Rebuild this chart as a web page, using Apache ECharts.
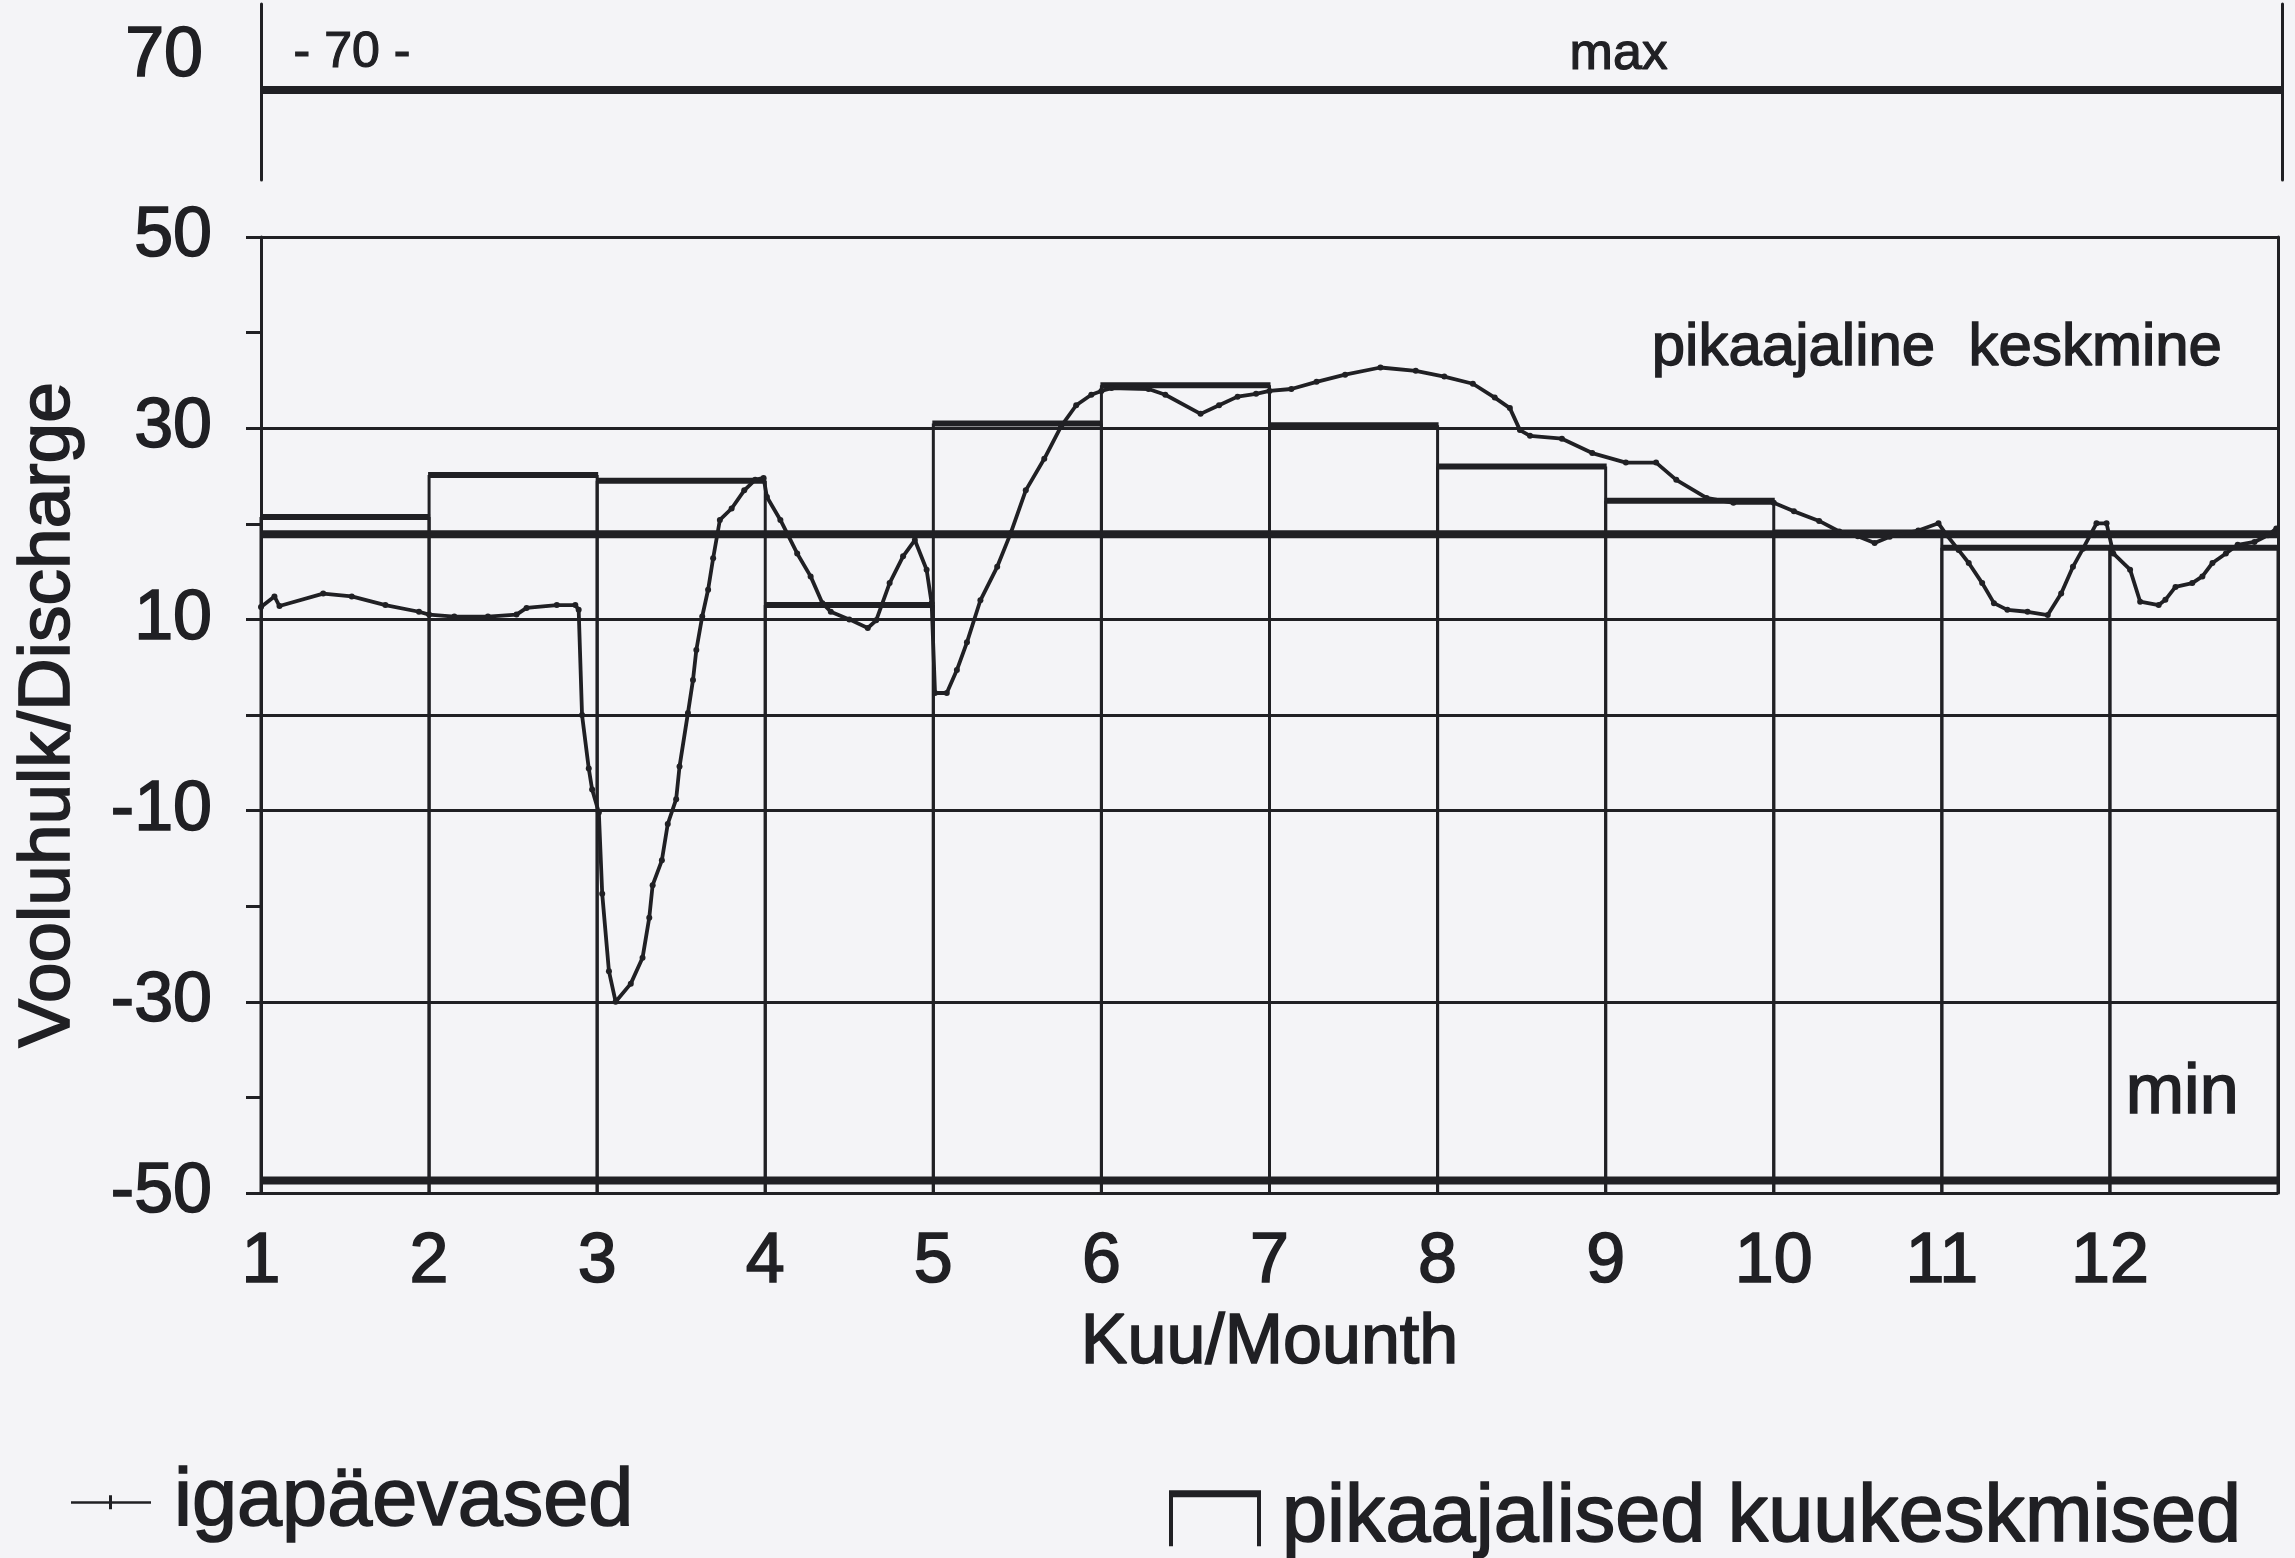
<!DOCTYPE html>
<html>
<head>
<meta charset="utf-8">
<title>Vooluhulk</title>
<script src="https://cdn.jsdelivr.net/npm/echarts@6.0.0/dist/echarts.min.js"></script>
<style>
  html, body { margin: 0; padding: 0; background: #f4f4f7; }
  #chart { width: 2295px; height: 1558px; }
</style>
</head>
<body>
<div id="chart"></div>
<script>
// kuud (x telg)
const months = [1, 2, 3, 4, 5, 6, 7, 8, 9, 10, 11, 12];
// pikaajalised kuukeskmised
const monthMeans = [20.7, 25.1, 24.5, 11.5, 30.5, 34.5, 30.3, 26.0, 22.4, 19.1, 17.5, 17.5];
// igapäevased (x kuudes, y vooluhulk), loetud pildilt
const dayX = [1.00, 1.08, 1.11, 1.37, 1.54, 1.74, 1.94, 2.00, 2.15, 2.35, 2.52, 2.58, 2.76, 2.87, 2.89,
  2.91, 2.95, 2.97, 3.01, 3.03, 3.07, 3.11, 3.20, 3.27, 3.31, 3.33, 3.385, 3.42, 3.47, 3.49, 3.54, 3.57,
  3.59, 3.625, 3.66, 3.69, 3.73, 3.80, 3.875, 3.94, 3.99, 4.01, 4.09, 4.19, 4.27, 4.34, 4.39, 4.50, 4.61,
  4.66, 4.74, 4.82, 4.89, 4.96, 4.99, 5.01, 5.08, 5.14, 5.20, 5.28, 5.38, 5.46, 5.55, 5.66, 5.76, 5.85,
  5.94, 6.00, 6.06, 6.28, 6.38, 6.59, 6.70, 6.81, 6.92, 7.00, 7.13, 7.28, 7.45, 7.66, 7.87, 8.04, 8.21,
  8.34, 8.43, 8.49, 8.55, 8.74, 8.92, 9.12, 9.30, 9.42, 9.60, 9.76, 10.00, 10.12, 10.27, 10.39, 10.50,
  10.60, 10.69, 10.86, 10.98, 11.03, 11.10, 11.16, 11.24, 11.31, 11.39, 11.51, 11.63, 11.71, 11.78,
  11.84, 11.92, 11.98, 12.02, 12.12, 12.18, 12.29, 12.33, 12.39, 12.49, 12.55, 12.61, 12.69, 12.76,
  12.86, 12.94, 12.99];
const dayY = [11.3, 12.4, 11.4, 12.7, 12.4, 11.5, 10.8, 10.5, 10.3, 10.3, 10.5, 11.2, 11.5, 11.5, 11.0,
  0.0, -5.6, -7.8, -10.2, -18.7, -26.8, -30.0, -28.1, -25.4, -21.2, -17.8, -15.2, -11.4, -8.8, -5.4, 0.2, 3.65,
  6.8, 10.3, 13.1, 16.4, 20.4, 21.6, 23.5, 24.6, 24.8, 22.8, 20.4, 16.9, 14.5, 11.7, 10.8, 10.0, 9.1,
  9.9, 13.8, 16.6, 18.3, 15.2, 11.7, 2.3, 2.3, 4.7, 7.6, 12.0, 15.5, 19.0, 23.5, 26.8, 30.2, 32.4,
  33.5, 33.9, 34.2, 34.1, 33.5, 31.5, 32.4, 33.3, 33.6, 33.9, 34.1, 34.85, 35.6, 36.35, 36.0, 35.4, 34.65,
  33.2, 32.1, 29.8, 29.2, 28.9, 27.4, 26.4, 26.4, 24.6, 22.7, 22.2, 22.2, 21.3, 20.3, 19.2, 18.7,
  18.0, 18.65, 19.3, 20.05, 18.8, 17.25, 15.9, 13.8, 11.7, 11.0, 10.8, 10.45, 12.7, 15.5,
  17.4, 20.05, 20.05, 16.9, 15.2, 11.85, 11.5, 12.05, 13.4, 13.8, 14.5, 15.9, 16.9, 17.8,
  18.1, 18.8, 19.5];
// pikaajaline keskmine, max, min
const longMean = 18.9;
const maxValue = 65.4;
const minValue = -48.7;
// horisontaalsed abijooned
const gridValues = [50, 30, 10, 0, -10, -30, -50];
const yLabelValues = [-50, -30, -10, 10, 30, 50];

const ink = '#202024';
const font = 'Liberation Sans, Arial, Helvetica, sans-serif';
const yMin = -50, yMax = 50;
// skaneeritud tekst on veidi paksem
const bold = { textBorderColor: ink, textBorderWidth: 1.6 };

const chart = echarts.init(document.getElementById('chart'));

const option = {
  backgroundColor: '#f4f4f7',
  animation: false,
  textStyle: { fontFamily: font, color: ink },
  grid: [
    { left: 261, right: 17, top: 237, height: 956 },
    { left: 261, right: 13, top: 4, height: 176 }
  ],
  xAxis: [
    {
      gridIndex: 0, type: 'value', min: 1, max: 13, interval: 1,
      name: 'Kuu/Mounth', nameLocation: 'middle', nameGap: 116,
      nameTextStyle: Object.assign({ fontSize: 70, color: ink, fontFamily: font }, bold),
      axisLine: { show: true, lineStyle: { color: ink, width: 3 } },
      axisTick: { show: false },
      splitLine: { show: false },
      axisLabel: Object.assign({
        fontSize: 70, color: ink, fontFamily: font, margin: 35,
        formatter: v => (v <= 12 ? String(v) : '')
      }, bold)
    },
    {
      gridIndex: 1, type: 'value', min: 1, max: 13, show: false
    }
  ],
  yAxis: [
    {
      gridIndex: 0, type: 'value', min: yMin, max: yMax, interval: 10,
      name: 'Vooluhulk/Discharge', nameLocation: 'middle', nameGap: 176, nameRotate: 90,
      nameTextStyle: Object.assign({ fontSize: 73, color: ink, fontFamily: font }, bold),
      axisLine: { show: true, lineStyle: { color: ink, width: 3 } },
      axisTick: { show: true, length: 15, lineStyle: { color: ink, width: 3 } },
      splitLine: { show: false },
      axisLabel: Object.assign({
        fontSize: 70, color: ink, fontFamily: font, margin: 49,
        formatter: v => (yLabelValues.indexOf(v) >= 0 ? String(v) : '')
      }, bold)
    },
    {
      gridIndex: 0, type: 'value', min: yMin, max: yMax, position: 'right',
      axisLine: { show: true, lineStyle: { color: ink, width: 3 } },
      axisTick: { show: false }, axisLabel: { show: false }, splitLine: { show: false }
    },
    {
      gridIndex: 1, type: 'value', min: 56, max: 74.4, interval: 14,
      axisLine: { show: true, lineStyle: { color: ink, width: 3 } },
      axisTick: { show: false }, splitLine: { show: false },
      axisLabel: {
        margin: 58,
        formatter: v => (v === 70 ? '{t|70}' : ''),
        rich: {
          t: Object.assign({ fontSize: 70, color: ink, fontFamily: font, padding: [22, 0, 0, 0] }, bold)
        }
      }
    },
    {
      gridIndex: 1, type: 'value', min: 56, max: 74.4, position: 'right',
      axisLine: { show: true, lineStyle: { color: ink, width: 3 } },
      axisTick: { show: false }, axisLabel: { show: false }, splitLine: { show: false }
    }
  ],
  legend: [
    {
      left: 66, top: 1456, selectedMode: false,
      itemWidth: 80, itemHeight: 14,
      itemStyle: { borderWidth: 0 },
      textStyle: Object.assign({ fontSize: 81, color: ink, fontFamily: font, padding: [0, 0, 0, 18] }, bold),
      data: [{ name: 'igapäevased', icon: 'path://M0,6H80V8.5H0Z M38,0H41V14H38Z', itemStyle: { color: ink, borderWidth: 0 } }]
    },
    {
      left: 1164, top: 1472, selectedMode: false,
      itemWidth: 92, itemHeight: 56,
      itemStyle: { borderWidth: 0 },
      textStyle: Object.assign({ fontSize: 81, color: ink, fontFamily: font, padding: [0, 0, 0, 16] }, bold),
      data: [{ name: 'pikaajalised kuukeskmised', icon: 'path://M0,0H92V7H0Z M0,7H4V56H0Z M88,7H92V56H88Z', itemStyle: { color: ink, borderWidth: 0, borderColor: 'transparent' } }]
    }
  ],
  graphic: [
    { type: 'text', left: 293, top: 28, style: { text: '- 70 -', fontSize: 50, fill: ink, fontFamily: font, stroke: ink, lineWidth: 1.2 } },
    { type: 'text', left: 1569, top: 28, style: { text: 'max', fontSize: 52, fill: ink, fontFamily: font, stroke: ink, lineWidth: 1.2 } },
    { type: 'text', left: 1651, top: 318, style: { text: 'pikaajaline  keskmine', fontSize: 60, fill: ink, fontFamily: font, stroke: ink, lineWidth: 1.4 } },
    { type: 'text', left: 2125, top: 1058, style: { text: 'min', fontSize: 70, fill: ink, fontFamily: font, stroke: ink, lineWidth: 1.6 } }
  ],
  series: [
    {
      name: 'pikaajalised kuukeskmised',
      type: 'custom',
      xAxisIndex: 0, yAxisIndex: 0,
      data: months.map((m, i) => [m, monthMeans[i]]),
      encode: { x: 0, y: 1 },
      itemStyle: { color: ink, borderWidth: 0 },
      z: 3,
      renderItem: function (params, api) {
        const m = api.value(0);
        const v = api.value(1);
        const bl = api.coord([m, yMin]);
        const tl = api.coord([m, v]);
        const tr = api.coord([m + 1, v]);
        const br = api.coord([m + 1, yMin]);
        return {
          type: 'group',
          children: [
            { type: 'line', shape: { x1: bl[0], y1: bl[1], x2: tl[0], y2: tl[1] }, style: { stroke: ink, lineWidth: 3 } },
            { type: 'line', shape: { x1: br[0], y1: br[1], x2: tr[0], y2: tr[1] }, style: { stroke: ink, lineWidth: 3 } },
            { type: 'line', shape: { x1: tl[0] - 1, y1: tl[1], x2: tr[0] + 1, y2: tr[1] }, style: { stroke: ink, lineWidth: 6 } }
          ]
        };
      }
    },
    {
      name: 'igapäevased',
      type: 'line',
      xAxisIndex: 0, yAxisIndex: 0,
      data: dayX.map((x, i) => [x, dayY[i]]),
      symbol: 'circle', symbolSize: 6, showSymbol: true,
      itemStyle: { color: ink },
      lineStyle: { color: ink, width: 3.8 },
      z: 5,
      markLine: {
        silent: true, symbol: 'none', label: { show: false },
        lineStyle: { color: ink, width: 3, type: 'solid' },
        data: gridValues.map(v => ({ yAxis: v }))
      }
    },
    {
      name: 'pikaajaline keskmine',
      type: 'line',
      xAxisIndex: 0, yAxisIndex: 0,
      data: [[1, longMean], [13, longMean]],
      symbol: 'none',
      lineStyle: { color: ink, width: 8 },
      z: 4
    },
    {
      name: 'min',
      type: 'line',
      xAxisIndex: 0, yAxisIndex: 0,
      data: [[1, minValue], [13, minValue]],
      symbol: 'none',
      lineStyle: { color: ink, width: 8 },
      z: 4
    },
    {
      name: 'max',
      type: 'line',
      xAxisIndex: 1, yAxisIndex: 2,
      data: [[1, maxValue], [13, maxValue]],
      symbol: 'none',
      lineStyle: { color: ink, width: 8 },
      z: 4
    }
  ]
};

chart.setOption(option);
</script>
</body>
</html>
